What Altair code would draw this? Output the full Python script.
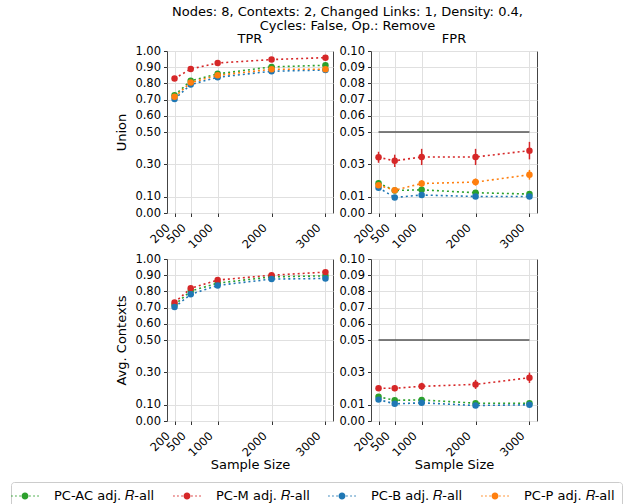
import altair as alt
import pandas as pd

sizes = [200, 500, 1000, 2000, 3000]
methods = ["PC-AC adj. 𝑅-all", "PC-M adj. 𝑅-all", "PC-B adj. 𝑅-all", "PC-P adj. 𝑅-all"]
colors = ["#2ca02c", "#d62728", "#1f77b4", "#ff7f0e"]

# Union / TPR
u_tpr_ac = [0.727, 0.816, 0.859, 0.902, 0.912]
u_tpr_m = [0.830, 0.889, 0.926, 0.947, 0.959]
u_tpr_b = [0.703, 0.793, 0.838, 0.875, 0.883]
u_tpr_p = [0.717, 0.805, 0.850, 0.887, 0.887]
u_tpr_err = [0.006, 0.005, 0.004, 0.004, 0.004]

# Union / FPR
u_fpr_ac = [0.0184, 0.0139, 0.0143, 0.0125, 0.0117]
u_fpr_m = [0.0344, 0.0322, 0.0346, 0.0346, 0.0385]
u_fpr_b = [0.0156, 0.0096, 0.0111, 0.0102, 0.0102]
u_fpr_p = [0.0172, 0.0141, 0.0182, 0.0191, 0.0236]
u_fpr_err_ac = [0.0020, 0.0012, 0.0012, 0.0012, 0.0012]
u_fpr_err_m = [0.0034, 0.0038, 0.0050, 0.0050, 0.0054]
u_fpr_err_b = [0.0015, 0.0010, 0.0010, 0.0012, 0.0012]
u_fpr_err_p = [0.0020, 0.0015, 0.0020, 0.0022, 0.0030]

# Avg. Contexts / TPR
a_tpr_ac = [0.717, 0.802, 0.851, 0.890, 0.896]
a_tpr_m = [0.731, 0.819, 0.870, 0.900, 0.919]
a_tpr_b = [0.703, 0.782, 0.837, 0.876, 0.880]
a_tpr_err = [0.006, 0.005, 0.004, 0.004, 0.004]

# Avg. Contexts / FPR
a_fpr_ac = [0.0149, 0.0128, 0.0130, 0.0110, 0.0110]
a_fpr_m = [0.0202, 0.0202, 0.0214, 0.0226, 0.0267]
a_fpr_b = [0.0132, 0.0106, 0.0112, 0.0096, 0.0100]
a_fpr_err_ac = [0.0012, 0.0010, 0.0010, 0.0008, 0.0008]
a_fpr_err_m = [0.0015, 0.0018, 0.0022, 0.0028, 0.0032]
a_fpr_err_b = [0.0010, 0.0008, 0.0008, 0.0008, 0.0008]

tpr_ticks = [0.0, 0.1, 0.3, 0.5, 0.6, 0.7, 0.8, 0.9, 1.0]
fpr_ticks = [0.0, 0.01, 0.03, 0.05, 0.06, 0.07, 0.08, 0.09, 0.1]


def frame(series):
    rows = []
    for m, vals, errs in series:
        for s, v, e in zip(sizes, vals, errs):
            rows.append({"size": s, "value": v, "lo": v - e, "hi": v + e,
                         "method": m, "order": methods.index(m)})
    return pd.DataFrame(rows)


def circ(cx, r):
    return (f"M{cx - r:.3f},0a{r:.3f},{r:.3f} 0 1,0 {2 * r:.3f},0"
            f"a{r:.3f},{r:.3f} 0 1,0 {-2 * r:.3f},0")


sym = "".join(circ(p, 0.11) for p in [-1.86, -1.29, -0.71, 0.71, 1.29, 1.86]) + circ(0, 0.5)

color = alt.Color("method:N", scale=alt.Scale(domain=methods, range=colors),
                  legend=alt.Legend(
                      title=None, orient="none", direction="horizontal", columns=4,
                      legendX=-156, legendY=431,
                      symbolType=sym,
                      symbolSize=196, symbolStrokeWidth=0, labelFontSize=13,
                      labelFont="DejaVu Sans", labelColor="black", columnPadding=18,
                      labelOffset=22, strokeColor="#cccccc", padding=7, cornerRadius=3,
                      fillColor="white"))


def panel(df, ticks, dom, ytitle, ptitle, xtitle, ref):
    x = alt.X("size:Q", scale=alt.Scale(domain=[60, 3140], nice=False, zero=False),
              axis=alt.Axis(values=sizes, labelAngle=-45, labelAlign="right",
                            labelBaseline="bottom", title=xtitle, format="d",
                            labelOverlap=False, tickCount=20, labelFlush=False,
                            labelPadding=13, labelOffset=-3, titlePadding=0))
    y = alt.Y("value:Q", scale=alt.Scale(domain=dom, nice=False, zero=False),
              axis=alt.Axis(values=ticks, format=".2f", title=ytitle,
                            labelOverlap=False, tickCount=20, labelPadding=3))
    base = alt.Chart(df)
    line = base.mark_line(strokeDash=[2, 3], strokeWidth=1.6).encode(
        x=x, y=y, color=color, detail="method:N", order="size:Q")
    err = base.mark_rule(strokeWidth=1.5).encode(
        x="size:Q", y="lo:Q", y2="hi:Q", color=color)
    pts = base.mark_circle(size=42, opacity=1).encode(
        x="size:Q", y="value:Q", color=color, order="order:Q")
    layers = [line]
    if ref:
        rl = alt.Chart(pd.DataFrame({"a": [200], "b": [3000], "v": [0.05]})).mark_rule(
            color="#555555", strokeWidth=1.5).encode(x="a:Q", x2="b:Q", y="v:Q")
        layers.append(rl)
    layers += [err, pts]
    ch = alt.layer(*layers).properties(width=166, height=162)
    if ptitle:
        ch = ch.properties(title=alt.TitleParams(ptitle, fontSize=13, fontWeight="normal",
                                                 font="DejaVu Sans", offset=-1, frame="group"))
    return ch


tl = panel(frame([(methods[0], u_tpr_ac, u_tpr_err), (methods[1], u_tpr_m, u_tpr_err),
                  (methods[2], u_tpr_b, u_tpr_err), (methods[3], u_tpr_p, u_tpr_err)]),
           tpr_ticks, [0, 1], "Union", "TPR", None, False)
tr = panel(frame([(methods[0], u_fpr_ac, u_fpr_err_ac), (methods[1], u_fpr_m, u_fpr_err_m),
                  (methods[2], u_fpr_b, u_fpr_err_b), (methods[3], u_fpr_p, u_fpr_err_p)]),
           fpr_ticks, [0, 0.1], None, "FPR", None, True)
bl = panel(frame([(methods[0], a_tpr_ac, a_tpr_err), (methods[1], a_tpr_m, a_tpr_err),
                  (methods[2], a_tpr_b, a_tpr_err)]),
           tpr_ticks, [0, 1], "Avg. Contexts", None, "Sample Size", False)
br = panel(frame([(methods[0], a_fpr_ac, a_fpr_err_ac), (methods[1], a_fpr_m, a_fpr_err_m),
                  (methods[2], a_fpr_b, a_fpr_err_b)]),
           fpr_ticks, [0, 0.1], None, None, "Sample Size", True)

chart = alt.vconcat(
    alt.hconcat(tl, tr, spacing=4),
    alt.hconcat(bl, br, spacing=4),
    spacing=0,
).properties(
    title=alt.TitleParams(["Nodes: 8, Contexts: 2, Changed Links: 1, Density: 0.4,",
                           "Cycles: False, Op.: Remove"],
                          fontSize=13, fontWeight="normal", font="DejaVu Sans",
                          anchor="middle", lineHeight=14, offset=0, dx=31),
    padding={"left": 10, "top": 5, "right": 0, "bottom": 0},
    background="white",
).configure_axis(
    labelFont="DejaVu Sans", labelFontSize=11.5, labelColor="black",
    titleFont="DejaVu Sans", titleFontSize=13, titleFontWeight="normal", titleColor="black",
    gridColor="#e0e0e0", domain=False, tickColor="#333333", tickSize=3.5,
    titlePadding=6,
).configure_view(stroke="#444444", strokeWidth=1)

chart.save("out.html", embed_options={"renderer": "svg", "actions": False})
